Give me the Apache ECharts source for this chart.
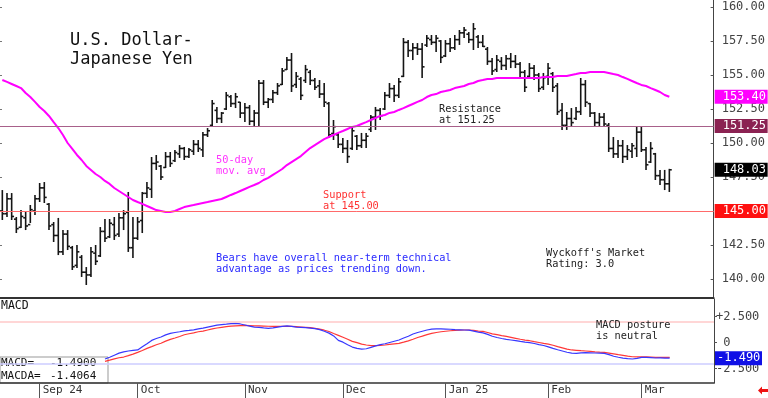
<!DOCTYPE html>
<html>
<head>
<meta charset="UTF-8">
<title>U.S. Dollar - Japanese Yen</title>
<style>
  html, body { margin: 0; padding: 0; background: #fff; }
  #chart { width: 768px; height: 398px; }
</style>
<script src="https://cdn.jsdelivr.net/npm/echarts@6/dist/echarts.min.js"></script>
</head>
<body>
<div id="chart"></div>
<script>
var MONO = '"DejaVu Sans Mono", "Liberation Mono", monospace';

// daily bars from Aug 21 2024: [open, high, low, close]
var bars = [
  [145.0,146.54,144.34,144.8],[144.8,146.32,144.56,145.9],[145.9,146.32,144.34,144.6],[144.4,144.56,143.38,143.7],
  [143.8,145.07,143.75,144.6],[144.5,144.93,143.60,143.9],[144.0,145.44,144.12,145.1],[145.0,146.18,144.71,145.9],
  [145.9,147.06,145.66,146.7],[146.7,147.13,145.59,146.0],[145.5,145.59,143.60,143.9],[144.0,144.19,142.72,143.2],
  [143.2,144.49,141.76,142.0],[142.0,143.60,141.76,143.3],[143.3,143.60,142.13,142.4],[142.3,142.43,140.66,140.9],
  [141.0,142.50,140.81,142.0],[141.6,141.76,140.15,140.5],[140.5,140.88,139.56,140.3],[140.3,142.35,140.15,142.0],
  [141.9,142.50,141.03,141.3],[141.7,143.82,141.62,143.5],[143.5,144.41,142.72,143.0],[143.1,144.41,143.01,144.1],
  [144.0,144.56,142.87,143.2],[143.3,144.85,143.09,144.5],[144.5,145.07,143.60,144.8],[144.9,146.40,141.99,142.3],
  [142.3,144.56,141.54,143.0],[143.0,144.56,142.87,144.2],[144.3,146.40,143.38,146.3],[146.3,147.13,145.96,146.7],
  [146.6,148.97,145.96,148.5],[148.5,149.12,148.02,148.6],[148.3,148.38,147.28,147.5],[148.2,149.34,148.16,149.0],
  [149.0,149.34,148.24,148.5],[148.7,149.49,148.60,149.3],[149.2,149.85,148.90,149.6],[149.6,149.71,148.75,149.0],
  [149.0,149.63,148.90,149.5],[149.4,150.22,149.12,149.9],[149.9,150.22,149.34,149.6],[149.5,150.81,148.97,150.6],
  [150.6,151.10,150.44,150.9],[151.3,153.16,151.18,152.9],[152.4,152.65,151.47,151.8],[151.8,152.28,151.47,152.2],
  [152.5,153.75,152.43,153.5],[153.4,153.53,152.65,152.9],[152.9,153.68,152.57,153.4],[153.0,153.02,151.84,152.2],
  [152.2,152.94,151.54,152.6],[152.6,152.79,151.32,151.6],[151.6,152.43,151.18,152.2],[152.2,154.63,151.18,154.4],
  [154.4,154.63,152.79,153.0],[153.0,153.31,152.57,153.2],[153.2,153.90,152.94,153.7],[153.7,154.41,153.53,154.2],
  [154.3,155.51,154.27,155.3],[155.4,156.32,155.37,156.1],[156.1,156.62,153.75,154.2],[154.3,155.22,154.04,154.9],
  [154.7,154.85,153.16,153.5],[154.6,155.74,154.41,155.4],[155.2,155.37,154.27,154.6],[154.6,154.78,153.90,154.1],
  [154.2,154.63,153.31,153.6],[153.6,154.41,152.65,153.0],[152.9,153.02,150.37,150.6],[150.7,151.69,150.22,151.2],
  [150.6,150.74,149.63,149.9],[149.9,150.37,149.27,149.6],[149.6,150.22,148.53,149.0],[149.6,151.18,149.49,150.9],
  [150.5,150.59,149.49,149.8],[149.8,150.74,149.63,150.2],[150.2,150.74,149.63,150.5],[151.0,152.06,150.81,151.9],
  [151.9,152.65,150.96,152.4],[152.4,152.57,151.69,152.0],[152.5,153.75,152.43,153.5],[153.5,154.41,153.31,154.0],
  [154.0,154.27,153.02,153.5],[153.5,154.78,153.31,154.5],[154.9,157.72,154.85,157.4],[157.4,157.57,156.32,156.8],
  [156.8,157.35,156.10,157.0],[157.0,157.35,156.47,156.9],[156.9,157.35,154.78,155.6],[157.2,157.94,157.06,157.7],
  [157.6,157.94,157.21,157.4],[157.4,157.94,156.69,157.7],[157.5,157.57,155.88,156.3],[156.4,157.57,156.32,157.3],
  [157.3,157.72,156.69,157.0],[157.0,157.94,156.84,157.6],[157.6,158.31,157.21,158.1],[158.1,158.53,157.72,158.3],
  [158.0,158.16,157.35,157.6],[157.6,158.82,156.84,158.4],[157.8,157.94,156.99,157.4],[157.4,157.94,157.06,157.1],
  [156.9,157.06,155.74,156.0],[156.0,156.25,155.00,155.3],[155.4,156.47,155.22,156.1],[156.0,156.32,155.37,155.7],
  [155.7,156.47,155.37,156.2],[156.2,156.62,155.51,156.0],[156.0,156.47,155.51,155.8],[155.8,155.96,154.85,155.2],
  [155.2,155.37,153.75,154.1],[154.9,155.88,154.78,155.5],[155.5,155.74,154.63,155.0],[155.0,155.15,153.75,154.0],
  [154.1,155.15,153.90,154.8],[154.9,155.88,154.27,155.5],[155.1,155.22,153.75,154.1],[154.2,154.41,152.06,152.3],
  [152.4,152.94,150.96,151.3],[151.3,152.28,150.96,151.8],[151.8,152.57,151.18,151.5],[151.8,152.65,151.69,152.3],
  [152.3,154.78,152.06,154.3],[154.3,154.63,152.65,153.0],[152.9,152.94,151.91,152.2],[152.2,152.28,151.18,151.5],
  [151.5,152.21,151.18,151.9],[151.9,152.21,151.18,151.4],[151.3,151.47,149.34,149.6],[149.6,150.44,148.90,149.2],
  [149.2,150.22,148.90,149.8],[149.8,150.22,148.53,149.0],[149.0,149.85,148.75,149.5],[149.4,150.00,148.90,149.8],
  [149.6,151.18,148.97,150.8],[150.8,151.18,149.34,149.5],[149.5,149.71,148.02,148.4],[148.6,150.07,148.53,149.6],
  [149.2,149.27,147.28,147.6],[147.6,148.02,146.91,147.3],[147.3,148.02,146.54,147.0],[147.0,148.10,146.40,148.03]
];

// 50-day moving average, one value per bar
var ma50 = [
  154.63,154.49,154.34,154.19,154.04,153.68,153.38,153.02,152.65,152.35,
  151.99,151.54,151.10,150.59,150.00,149.56,149.12,148.75,148.31,148.02,
  147.72,147.50,147.21,146.99,146.69,146.47,146.25,146.03,145.81,145.66,
  145.52,145.37,145.22,145.07,145.00,144.93,144.93,145.00,145.15,145.29,
  145.37,145.44,145.52,145.59,145.66,145.74,145.81,145.88,146.03,146.18,
  146.32,146.47,146.62,146.77,146.91,147.06,147.28,147.43,147.65,147.87,
  148.09,148.38,148.60,148.82,149.04,149.34,149.63,149.85,150.07,150.29,
  150.44,150.59,150.74,150.88,151.03,151.18,151.25,151.40,151.54,151.69,
  151.84,151.99,152.06,152.21,152.28,152.43,152.57,152.72,152.87,153.02,
  153.16,153.38,153.53,153.60,153.75,153.82,153.90,154.04,154.12,154.19,
  154.34,154.41,154.56,154.63,154.71,154.71,154.78,154.78,154.78,154.78,
  154.78,154.78,154.78,154.78,154.78,154.78,154.85,154.85,154.85,154.93,
  154.93,154.93,155.00,155.07,155.15,155.15,155.22,155.22,155.22,155.22,
  155.15,155.07,155.00,154.85,154.71,154.56,154.41,154.27,154.19,154.04,
  153.90,153.75,153.53,153.40
];

// MACD and its average, starting at bar 22
var macdStart = 22;
var macd = [
  -1.57,-1.40,-1.20,-1.00,-0.88,-0.80,-0.74,-0.70,-0.40,-0.10,
  0.22,0.40,0.55,0.75,0.90,0.98,1.05,1.13,1.18,1.24,
  1.32,1.40,1.50,1.60,1.68,1.74,1.78,1.83,1.86,1.80,
  1.70,1.60,1.50,1.47,1.42,1.38,1.42,1.50,1.56,1.61,
  1.56,1.50,1.47,1.44,1.40,1.36,1.25,1.10,0.92,0.65,
  0.22,0.05,-0.20,-0.42,-0.55,-0.61,-0.58,-0.45,-0.30,-0.18,
  -0.10,0.02,0.14,0.26,0.45,0.62,0.84,0.98,1.10,1.22,
  1.30,1.33,1.33,1.31,1.29,1.26,1.24,1.22,1.20,1.12,
  1.02,0.95,0.80,0.62,0.50,0.40,0.32,0.26,0.20,0.12,
  0.05,0.00,-0.08,-0.18,-0.27,-0.40,-0.55,-0.68,-0.80,-0.92,
  -1.00,-1.03,-0.98,-0.95,-0.97,-0.99,-1.01,-1.03,-1.15,-1.30,
  -1.40,-1.48,-1.54,-1.57,-1.50,-1.42,-1.41,-1.44,-1.47,-1.46,
  -1.48,-1.49
];
var macdAvg = [
  -1.80,-1.68,-1.55,-1.45,-1.38,-1.25,-1.10,-0.93,-0.75,-0.55,
  -0.38,-0.20,-0.05,0.15,0.32,0.45,0.60,0.76,0.86,0.95,
  1.05,1.12,1.22,1.32,1.41,1.48,1.55,1.60,1.62,1.64,
  1.66,1.64,1.62,1.61,1.60,1.58,1.57,1.57,1.57,1.57,
  1.56,1.54,1.51,1.48,1.44,1.38,1.30,1.20,1.08,0.88,
  0.70,0.52,0.33,0.13,0.00,-0.14,-0.22,-0.28,-0.29,-0.26,
  -0.22,-0.17,-0.12,-0.07,0.05,0.18,0.33,0.50,0.63,0.78,
  0.89,0.98,1.05,1.10,1.15,1.18,1.20,1.22,1.22,1.18,
  1.12,1.08,0.98,0.85,0.77,0.68,0.60,0.51,0.42,0.33,
  0.25,0.19,0.10,0.02,-0.07,-0.14,-0.25,-0.38,-0.50,-0.62,
  -0.70,-0.73,-0.77,-0.80,-0.84,-0.88,-0.91,-0.93,-1.00,-1.07,
  -1.15,-1.22,-1.29,-1.35,-1.36,-1.35,-1.36,-1.38,-1.41,-1.41,
  -1.41,-1.41
];

var resistance = 151.25, support = 145.00, lastMa = 153.40, lastClose = 148.03;
var lastMacd = -1.4900, lastMacdAvg = -1.4064;
var priceTicks = [140, 142.5, 145, 147.5, 150, 152.5, 155, 157.5, 160];
var macdTicks = [2.5, 0, -2.5];
var macdBands = [2, -2];
var monthNames = ['Jan','Feb','Mar','Apr','May','Jun','Jul','Aug','Sep','Oct','Nov','Dec'];

// trading days (weekdays, New Year's Day off), with empty days to the right edge
var days = [];
var d = new Date(2024, 7, 21);
while (days.length < 153) {
  var wd = d.getDay();
  if (wd !== 0 && wd !== 6 && !(d.getMonth() === 0 && d.getDate() === 1)) {
    days.push(d.getFullYear() + '-' + (d.getMonth() + 1) + '-' + d.getDate());
  }
  d.setDate(d.getDate() + 1);
}
function monthOf(s) { return +s.split('-')[1] - 1; }
function isMonthStart(i) { return i > 0 && monthOf(days[i]) !== monthOf(days[i - 1]); }

var chart = echarts.init(document.getElementById('chart'));

var hidden = { color: 'rgba(0,0,0,0)', width: 0 };

function boxLabel(bg, digits, w, padLeft) {
  return {
    show: true, position: 'end', distance: 1,
    formatter: function (p) { return p.value.toFixed(digits); },
    color: '#fff', backgroundColor: bg, padding: [1, 2, 0, padLeft],
    fontFamily: MONO, fontSize: 12, lineHeight: 13, width: w
  };
}

function renderBar(params, api) {
  var i = api.value(0);
  var o = api.coord([i, api.value(1)]);
  var h = api.coord([i, api.value(2)]);
  var l = api.coord([i, api.value(3)]);
  var c = api.coord([i, api.value(4)]);
  var x = h[0];
  var st = { stroke: '#151515', lineWidth: 1.6 };
  return {
    type: 'group',
    children: [
      { type: 'line', shape: { x1: x, y1: h[1], x2: x, y2: l[1] }, style: st },
      { type: 'line', shape: { x1: x - 2.4, y1: o[1], x2: x, y2: o[1] }, style: st },
      { type: 'line', shape: { x1: x, y1: c[1], x2: x + 2.4, y2: c[1] }, style: st }
    ]
  };
}

var smallText = function (x, y, text, color) {
  return {
    type: 'text', x: x, y: y, z: 50,
    style: { text: text, fill: color, font: '10.3px ' + MONO, lineHeight: 11, verticalAlign: 'top' }
  };
};

var option = {
  animation: false,
  backgroundColor: '#fff',
  grid: [
    { left: 0, top: 0, width: 714, height: 298 },
    { left: 0, top: 299, width: 714, height: 84 }
  ],
  xAxis: [
    {
      type: 'category', gridIndex: 0, data: days, boundaryGap: true,
      axisLine: { onZero: false, lineStyle: { color: '#333', width: 2 } },
      axisTick: { show: false }, axisLabel: { show: false }, splitLine: { show: false }
    },
    {
      type: 'category', gridIndex: 1, data: days, boundaryGap: true,
      axisLine: { onZero: false, lineStyle: { color: '#333', width: 1.5 } },
      axisTick: {
        show: true, alignWithLabel: true, length: 15,
        interval: function (i) { return isMonthStart(i); },
        lineStyle: { color: '#555' }
      },
      axisLabel: {
        interval: function (i) { return isMonthStart(i); },
        formatter: function (v) {
          var m = monthOf(v);
          var s = monthNames[m];
          if (m === 0 || m === 8) s += ' ' + v.slice(2, 4);
          return s;
        },
        align: 'left', padding: [0, 0, 0, 3], margin: 2,
        color: '#333', fontFamily: MONO, fontSize: 11
      },
      splitLine: { show: false }
    }
  ],
  yAxis: [
    {
      type: 'value', gridIndex: 0, position: 'right', min: 138.603, max: 160.515,
      axisLine: { show: true, lineStyle: { color: '#444', width: 1 } },
      axisTick: { show: true, inside: true, length: 3, customValues: priceTicks, lineStyle: { color: '#555' } },
      axisLabel: {
        customValues: priceTicks, margin: 8,
        formatter: function (v) { return v.toFixed(2); },
        color: '#444', fontFamily: MONO, fontSize: 12
      },
      splitLine: { show: false }
    },
    {
      type: 'value', gridIndex: 1, position: 'right', min: -3.875, max: 4.2,
      axisLine: { show: true, lineStyle: { color: '#444', width: 1 } },
      axisTick: { show: true, length: 3, customValues: macdTicks, lineStyle: { color: '#555' } },
      axisLabel: {
        customValues: macdTicks, margin: 2,
        formatter: function (v) { return v === 0 ? ' 0' : (v > 0 ? '+' : '') + v.toFixed(3); },
        color: '#444', fontFamily: MONO, fontSize: 12
      },
      splitLine: { show: false }
    },
    {
      type: 'value', gridIndex: 0, position: 'left', min: 138.603, max: 160.515,
      axisLine: { show: false },
      axisTick: { show: true, inside: true, length: 2, customValues: priceTicks, lineStyle: { color: '#777' } },
      axisLabel: { show: false }, splitLine: { show: false }
    }
  ],
  series: [
    {
      name: 'USD/JPY', type: 'custom', xAxisIndex: 0, yAxisIndex: 0,
      renderItem: renderBar,
      encode: { x: 0, y: [1, 2, 3, 4] },
      data: bars.map(function (b, i) { return [i, b[0], b[1], b[2], b[3]]; }),
      z: 3,
      markLine: {
        silent: true, symbol: 'none', animation: false,
        data: [
          { yAxis: resistance, lineStyle: { color: '#a8608a', width: 1, type: 'solid' }, label: boxLabel('#8b2252', 2, 43, 8) },
          { yAxis: support, lineStyle: { color: '#ff6a6a', width: 1, type: 'solid' }, label: boxLabel('#ff1010', 2, 43, 8) },
          { yAxis: lastClose, lineStyle: hidden, label: boxLabel('#000', 2, 43, 8) }
        ]
      }
    },
    {
      name: '50-day', type: 'line', xAxisIndex: 0, yAxisIndex: 0,
      data: ma50, symbol: 'none', z: 4,
      lineStyle: { color: '#ff00ff', width: 2 },
      markLine: {
        silent: true, symbol: 'none', animation: false,
        data: [
          { yAxis: lastMa, lineStyle: hidden, label: boxLabel('#ff00ff', 2, 43, 8) }
        ]
      }
    },
    {
      name: 'MACDA', type: 'line', xAxisIndex: 1, yAxisIndex: 1,
      data: macdAvg.map(function (v, i) { return [i + macdStart, v]; }),
      symbol: 'none', lineStyle: { color: '#ff3838', width: 1.2 },
      markLine: {
        silent: true, symbol: 'none', animation: false, label: { show: false },
        data: [
          { yAxis: macdBands[0], lineStyle: { color: '#ffc8c8', width: 1.5, type: 'solid' } },
          { yAxis: macdBands[1], lineStyle: { color: '#ccccff', width: 1.5, type: 'solid' } }
        ]
      }
    },
    {
      name: 'MACD', type: 'line', xAxisIndex: 1, yAxisIndex: 1,
      data: macd.map(function (v, i) { return [i + macdStart, v]; }),
      symbol: 'none', lineStyle: { color: '#3838ff', width: 1.2 },
      markLine: {
        silent: true, symbol: 'none', animation: false,
        data: [
          { yAxis: lastMacd, lineStyle: hidden, label: boxLabel('#1010e6', 3, 43, 2) }
        ]
      }
    }
  ],
  graphic: [
    {
      type: 'text', x: 70, y: 31, z: 50,
      style: { text: 'U.S. Dollar-\nJapanese Yen', fill: '#111', font: '17px ' + MONO, lineHeight: 19, verticalAlign: 'top' }
    },
    smallText(216, 155, '50-day\nmov. avg', '#ff33ff'),
    smallText(323, 190, 'Support\nat ' + support.toFixed(2), '#ff3333'),
    smallText(439, 104, 'Resistance\nat ' + resistance.toFixed(2), '#222'),
    smallText(216, 253, 'Bears have overall near-term technical\nadvantage as prices trending down.', '#2a2aff'),
    smallText(546, 248, "Wyckoff's Market\nRating: 3.0", '#222'),
    smallText(596, 320, 'MACD posture\nis neutral', '#222'),
    {
      type: 'text', x: 1, y: 300, z: 50,
      style: { text: 'MACD', fill: '#111', font: '11.5px ' + MONO, verticalAlign: 'top' }
    },
    {
      type: 'group', z: 60,
      children: [
        { type: 'rect', shape: { x: 0, y: 357, width: 108, height: 26 }, style: { fill: '#fff', stroke: '#999', lineWidth: 1 } },
        { type: 'text', x: 1, y: 357, style: { text: 'MACD=\nMACDA=', fill: '#111', font: '11px ' + MONO, lineHeight: 13, verticalAlign: 'top' } },
        { type: 'text', x: 50, y: 357, style: { text: lastMacd.toFixed(4) + '\n' + lastMacdAvg.toFixed(4), fill: '#111', font: '11px ' + MONO, lineHeight: 13, verticalAlign: 'top' } }
      ]
    },
    {
      type: 'polygon', z: 60,
      shape: { points: [[758, 390.5], [762, 386.5], [762, 389], [768, 389], [768, 392], [762, 392], [762, 394.5]] },
      style: { fill: '#ee1111' }
    }
  ]
};

chart.setOption(option);
</script>
</body>
</html>
